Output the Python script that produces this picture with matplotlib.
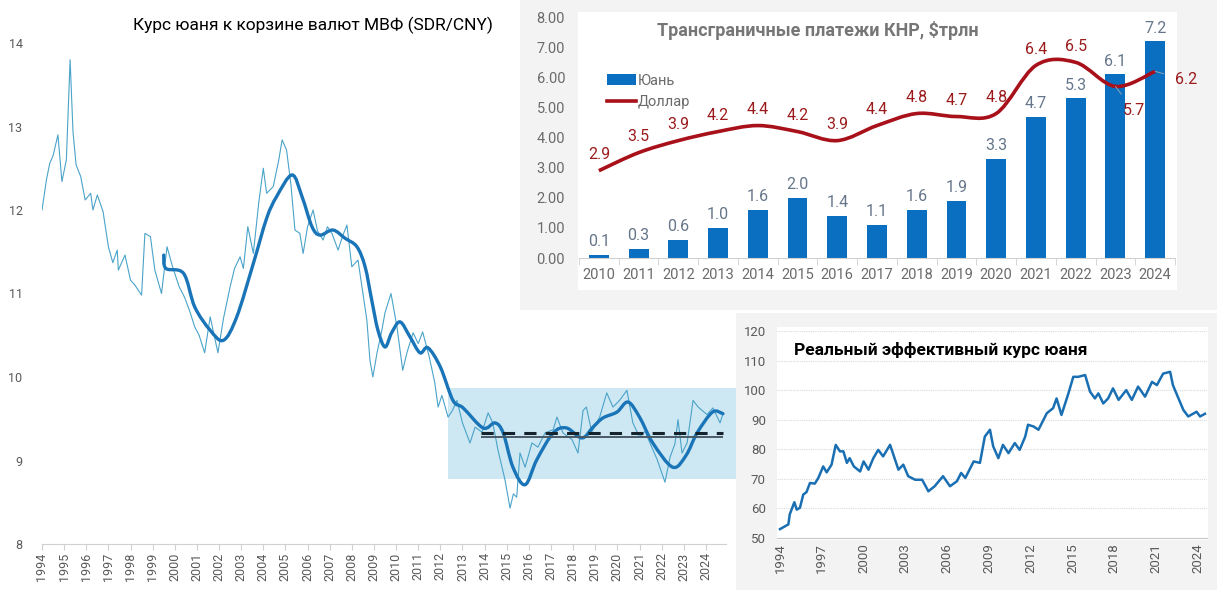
import numpy as np
import matplotlib
matplotlib.use("Agg")
import matplotlib.pyplot as plt
from matplotlib.path import Path
from matplotlib.patches import PathPatch, Rectangle

plt.rcParams['font.family'] = ['Roboto', 'DejaVu Sans']

##---- Data ----##

# SDR/CNY, дневной ряд
sdr_years = [1994.0, 1994.2, 1994.35, 1994.5, 1994.72, 1994.9, 1995.1, 1995.27, 1995.4, 1995.54,
             1995.75, 1995.95, 1996.2, 1996.3, 1996.5, 1996.76, 1997.0, 1997.2, 1997.4, 1997.45,
             1997.75, 1998.0, 1998.2, 1998.5, 1998.65, 1998.9, 1999.1, 1999.4, 1999.65, 1999.9,
             2000.2, 2000.45, 2000.7, 2000.9, 2001.1, 2001.35, 2001.6, 2001.95, 2002.2, 2002.5,
             2002.7, 2002.95, 2003.1, 2003.3, 2003.55, 2003.8, 2004.0, 2004.15, 2004.45, 2004.7,
             2004.85, 2005.05, 2005.25, 2005.43, 2005.65, 2005.8, 2006.0, 2006.25, 2006.45, 2006.7,
             2006.9, 2007.1, 2007.38, 2007.6, 2007.78, 2008.0, 2008.28, 2008.46, 2008.68, 2008.82,
             2008.95, 2009.14, 2009.35, 2009.5, 2009.77, 2010.04, 2010.3, 2010.5, 2010.77, 2011.0,
             2011.2, 2011.5, 2011.75, 2011.9, 2012.07, 2012.35, 2012.55, 2012.75, 2013.0, 2013.34,
             2013.57, 2013.88, 2014.16, 2014.37, 2014.6, 2014.92, 2015.15, 2015.3, 2015.45, 2015.6,
             2015.83, 2016.14, 2016.41, 2016.73, 2017.1, 2017.27, 2017.54, 2017.95, 2018.22, 2018.45,
             2018.6, 2018.84, 2019.2, 2019.52, 2019.8, 2020.1, 2020.43, 2020.7, 2021.0, 2021.25,
             2021.47, 2021.8, 2022.15, 2022.38, 2022.6, 2022.74, 2022.92, 2023.15, 2023.42, 2023.65,
             2024.05, 2024.32, 2024.64, 2024.78]
sdr_values = [12.0, 12.36, 12.56, 12.65, 12.9, 12.34, 12.6, 13.8, 12.94, 12.54,
              12.4, 12.12, 12.2, 12.0, 12.18, 11.98, 11.56, 11.37, 11.52, 11.28,
              11.46, 11.16, 11.1, 10.98, 11.72, 11.68, 11.28, 11.0, 11.56, 11.32,
              11.08, 10.95, 10.77, 10.6, 10.5, 10.29, 10.72, 10.29, 10.7, 11.08,
              11.3, 11.44, 11.3, 11.8, 11.48, 12.1, 12.5, 12.2, 12.28, 12.6,
              12.84, 12.72, 12.3, 11.76, 11.72, 11.48, 11.8, 12.0, 11.75, 11.64,
              11.8, 11.72, 11.52, 11.7, 11.82, 11.32, 11.4, 11.08, 10.68, 10.2,
              10.0, 10.29, 10.55, 10.77, 11.0, 10.6, 10.08, 10.3, 10.53, 10.4,
              10.54, 10.24, 9.93, 9.64, 9.78, 9.52, 9.6, 9.72, 9.45, 9.21,
              9.40, 9.34, 9.57, 9.45, 9.13, 8.77, 8.43, 8.6, 8.56, 9.09,
              8.92, 9.21, 9.16, 9.33, 9.37, 9.52, 9.33, 9.25, 9.09, 9.60,
              9.64, 9.34, 9.52, 9.81, 9.64, 9.72, 9.84, 9.45, 9.28, 9.35,
              9.21, 9.01, 8.74, 9.04, 9.2, 9.49, 9.09, 9.21, 9.72, 9.64,
              9.55, 9.63, 9.45, 9.57]

# скользящее среднее
ma_years = [1999.5, 1999.6, 2000.4, 2000.9, 2001.6, 2002.2, 2002.8, 2003.55, 2004.15, 2004.6,
            2005.3, 2005.75, 2006.2, 2006.56, 2007.15, 2007.7, 2008.23, 2008.6, 2008.9, 2009.18,
            2009.5, 2009.8, 2010.18, 2010.63, 2011.08, 2011.44, 2012.0, 2012.57, 2013.03, 2013.93,
            2014.47, 2014.84, 2015.28, 2015.83, 2016.36, 2017.1, 2017.7, 2018.4, 2018.9, 2019.35,
            2019.98, 2020.48, 2021.0, 2021.6, 2022.5, 2023.1, 2023.6, 2024.3, 2024.77]
ma_values = [11.46, 11.3, 11.24, 10.84, 10.56, 10.44, 10.72, 11.36, 11.9, 12.16,
             12.42, 12.16, 11.8, 11.7, 11.76, 11.66, 11.56, 11.32, 10.92, 10.56,
             10.36, 10.53, 10.66, 10.48, 10.29, 10.35, 10.12, 9.72, 9.63, 9.39,
             9.45, 9.33, 8.92, 8.71, 9.01, 9.33, 9.39, 9.27, 9.40, 9.51,
             9.58, 9.70, 9.52, 9.21, 8.92, 9.06, 9.33, 9.58, 9.56]

corridor_low, corridor_high = 8.78, 9.87
level_dashed = 9.33
level_solid = 9.28

# трансграничные платежи
pay_years = ['2010', '2011', '2012', '2013', '2014', '2015', '2016', '2017',
             '2018', '2019', '2020', '2021', '2022', '2023', '2024']
pay_cny = [0.1, 0.3, 0.6, 1.0, 1.6, 2.0, 1.4, 1.1, 1.6, 1.9, 3.3, 4.7, 5.3, 6.1, 7.2]
pay_usd = [2.9, 3.5, 3.9, 4.2, 4.4, 4.2, 3.9, 4.4, 4.8, 4.7, 4.8, 6.4, 6.5, 5.7, 6.2]

# реальный эффективный курс
reer_years = [1994.0, 1994.6, 1994.7, 1995.03, 1995.2, 1995.43, 1995.67, 1995.9, 1996.15, 1996.5,
              1996.75, 1997.1, 1997.35, 1997.7, 1998.0, 1998.3, 1998.55, 1998.8, 1999.0, 1999.3,
              1999.75, 2000.0, 2000.35, 2000.7, 2001.05, 2001.4, 2001.9, 2002.5, 2002.85, 2003.2,
              2003.7, 2004.2, 2004.65, 2005.1, 2005.7, 2006.2, 2006.7, 2007.0, 2007.3, 2007.9,
              2008.35, 2008.7, 2009.07, 2009.3, 2009.67, 2010.0, 2010.4, 2010.85, 2011.2, 2011.6,
              2011.8, 2012.2, 2012.55, 2013.15, 2013.6, 2013.85, 2014.2, 2014.7, 2015.05, 2015.4,
              2015.9, 2016.25, 2016.6, 2016.85, 2017.2, 2017.55, 2017.9, 2018.3, 2018.85, 2019.25,
              2019.7, 2020.2, 2020.7, 2021.05, 2021.5, 2022.0, 2022.2, 2022.6, 2022.95, 2023.3,
              2023.9, 2024.15, 2024.5]
reer_values = [53.0, 54.6, 58.0, 62.1, 59.6, 60.2, 64.7, 65.5, 68.6, 68.4,
               70.3, 74.2, 72.2, 74.8, 81.5, 79.3, 79.3, 75.4, 77.0, 74.2,
               72.5, 75.9, 73.1, 77.0, 79.8, 77.6, 81.5, 73.1, 74.8, 70.9,
               69.7, 69.7, 65.8, 67.5, 70.9, 67.5, 69.2, 72.0, 70.3, 75.9,
               75.4, 84.3, 86.6, 81.0, 77.0, 81.5, 78.7, 82.1, 79.8, 84.3,
               88.3, 87.7, 86.6, 92.2, 93.9, 97.2, 91.6, 98.9, 104.5, 104.5,
               105.1, 99.5, 97.2, 98.9, 95.5, 97.2, 100.6, 96.7, 100.0, 96.7,
               101.2, 97.8, 102.8, 101.7, 105.6, 106.2, 101.7, 97.2, 93.3, 91.1,
               92.7, 91.1, 92.0]

##---- Layout (pixels) ----##

W, H = 1217, 602

def px(x0, y0, x1, y1):
    return [x0 / W, 1 - y1 / H, (x1 - x0) / W, (y1 - y0) / H]

# Сглаженная линия (как "smoothed line" в Excel) : кривые Безье через точки
def smooth_path(x, y):
    pts = np.column_stack([x, y]).astype(float)
    verts = [pts[0]]
    codes = [Path.MOVETO]
    n = len(pts)
    for i in range(n - 1):
        p0 = pts[max(i - 1, 0)]
        p1 = pts[i]
        p2 = pts[i + 1]
        p3 = pts[min(i + 2, n - 1)]
        verts += [p1 + (p2 - p0) / 6, p2 - (p3 - p1) / 6, p2]
        codes += [Path.CURVE4] * 3
    return Path(verts, codes)

def clean_box(a, color):
    a.set_facecolor(color)
    a.set_xticks([]); a.set_yticks([])
    for s in a.spines.values():
        s.set_visible(False)

GRAY_TXT = '#595959'

fig = plt.figure(figsize=(W / 100, H / 100), dpi=100)
fig.patch.set_facecolor('white')

##---- Main chart ----##

ax = fig.add_axes(px(42, 1, 726, 544))
ax.set_xlim(1994, 1994 + 684 / 22.13)
ax.set_ylim(8, 8 + 543 / 83.5)

ax.add_patch(Rectangle((2012.35, corridor_low), 13.0, corridor_high - corridor_low,
                       facecolor='#cde7f3', edgecolor='none', zorder=1, clip_on=False))
ax.plot(sdr_years, sdr_values, color='#4aa3c9', lw=0.8, zorder=2)
ax.add_patch(PathPatch(smooth_path(ma_years, ma_values), facecolor='none',
                       edgecolor='#1a75b8', lw=2.4, zorder=3, capstyle='round'))
ax.hlines(level_solid, 2013.84, 2024.77, color='#4a5a66', lw=1.4, zorder=4)
ax.hlines(level_dashed, 2013.84, 2024.77, color='#15232d', lw=2.2, linestyles=(0, (4, 3)), zorder=4)

for s in ['top', 'right', 'left']:
    ax.spines[s].set_visible(False)
ax.spines['bottom'].set_color('#d0d0d0')
ax.set_xticks(range(1994, 2025))
ax.set_xticklabels([str(y) for y in range(1994, 2025)], rotation=90, fontsize=9, color=GRAY_TXT)
ax.tick_params(axis='x', length=4, color='#d0d0d0', pad=2)
ax.set_yticks(range(8, 15))
ax.tick_params(axis='y', length=0, pad=14, labelsize=9, labelcolor=GRAY_TXT)
ax.patch.set_alpha(0)

fig.text(313 / W, 1 - 25 / H, 'Курс юаня к корзине валют МВФ (SDR/CNY)',
         ha='center', va='center', fontsize=12.5, color='black')

##---- Cross-border payments ----##

bg1 = fig.add_axes(px(520, 0, 1217, 310))
clean_box(bg1, '#f3f3f3')
wh1 = fig.add_axes(px(578, 12, 1177, 290))
clean_box(wh1, 'white')

ax2 = fig.add_axes(px(579, 11, 1175, 258))
ax2.patch.set_alpha(0)
xs = np.arange(len(pay_years))
ax2.set_xlim(-0.5, len(pay_years) - 0.5)
ax2.set_ylim(0, 247 / 30.1)

bar_h = ax2.bar(xs, pay_cny, width=0.5, color='#0a6fc0', label='Юань', zorder=2)
for x, v in zip(xs, pay_cny):
    ax2.annotate(f'{v:.1f}', (x, v), xytext=(0, 4), textcoords='offset points',
                 ha='center', va='bottom', fontsize=11.5, color='#66768a')

ax2.add_patch(PathPatch(smooth_path(xs, pay_usd), facecolor='none', edgecolor='#a8101a', lw=2.6, zorder=3))
line_h, = ax2.plot([], [], color='#a8101a', lw=2.6, label='Доллар')

for i, (x, v) in enumerate(zip(xs, pay_usd)):
    if pay_years[i] == '2023':
        ax2.annotate(f'{v:.1f}', (x, v), xytext=(13, -17), textcoords='offset points',
                     ha='center', va='center', fontsize=11.5, color='#9b1b1b',
                     arrowprops=dict(arrowstyle='-', color='#8fa3b8', lw=0.7, shrinkA=5, shrinkB=0))
    elif pay_years[i] == '2024':
        ax2.annotate(f'{v:.1f}', (x, v), xytext=(22, -6), textcoords='offset points',
                     ha='center', va='center', fontsize=11.5, color='#9b1b1b',
                     arrowprops=dict(arrowstyle='-', color='#8fa3b8', lw=0.7, shrinkA=6, shrinkB=0))
    else:
        ax2.annotate(f'{v:.1f}', (x, v), xytext=(0, 6), textcoords='offset points',
                     ha='center', va='bottom', fontsize=11.5, color='#9b1b1b')

ax2.set_xticks(xs)
ax2.set_xticklabels(pay_years, fontsize=10.5, color='#6b6b6b')
ax2.set_xticks(np.arange(-0.5, len(pay_years)), minor=True)
ax2.tick_params(axis='x', which='major', length=0, pad=7)
ax2.tick_params(axis='x', which='minor', length=5, color='#d0d0d0')
ax2.set_yticks(range(0, 9))
ax2.set_yticklabels([f'{v:.2f}' for v in range(0, 9)], fontsize=10.5, color='#6b6b6b')
ax2.tick_params(axis='y', length=0, pad=10)
for s in ['top', 'right', 'left']:
    ax2.spines[s].set_visible(False)
ax2.spines['bottom'].set_color('#d0d0d0')
ax2.set_zorder(5)

ax2.legend([bar_h, line_h], ['Юань', 'Доллар'], loc='upper left', bbox_to_anchor=(0.025, 0.80),
           frameon=False, fontsize=10.5, labelcolor='#6b6b6b', handlelength=2.0,
           handletextpad=0.1, labelspacing=0.5)
fig.text(818 / W, 1 - 31 / H, 'Трансграничные платежи КНР, $трлн', ha='center', va='center',
         fontsize=13, fontweight='bold', color='#767676', zorder=10)

##---- REER ----##

bg2 = fig.add_axes(px(736, 313, 1217, 590))
clean_box(bg2, '#f3f3f3')
wh2 = fig.add_axes(px(777, 327, 1208, 540))
clean_box(wh2, 'white')

ax3 = fig.add_axes(px(777, 331, 1207, 538))
ax3.patch.set_alpha(0)
ax3.set_xlim(1994 - 3 / 13.93, 2024 + 9 / 13.93)
ax3.set_ylim(50, 120)
ax3.plot(reer_years, reer_values, color='#1a6fb3', lw=1.8, zorder=3)
ax3.set_yticks(range(50, 121, 10))
ax3.yaxis.grid(True, color='#d9d9d9', lw=0.8, linestyle=(0, (1, 1)))
ax3.set_axisbelow(True)
ax3.tick_params(axis='y', length=0, pad=8, labelsize=9.5, labelcolor=GRAY_TXT)
ax3.set_xticks(range(1994, 2025, 3))
ax3.set_xticklabels([str(y) for y in range(1994, 2025, 3)], rotation=90, fontsize=9.5, color=GRAY_TXT)
ax3.tick_params(axis='x', length=0, pad=4)
for s in ['top', 'right', 'left']:
    ax3.spines[s].set_visible(False)
ax3.spines['bottom'].set_color('#c8c8c8')
ax3.text(0.04, 0.91, 'Реальный эффективный курс юаня', transform=ax3.transAxes,
         ha='left', va='center', fontsize=12.5, fontweight='bold', color='black')

fig.savefig('out.png', dpi=100)
